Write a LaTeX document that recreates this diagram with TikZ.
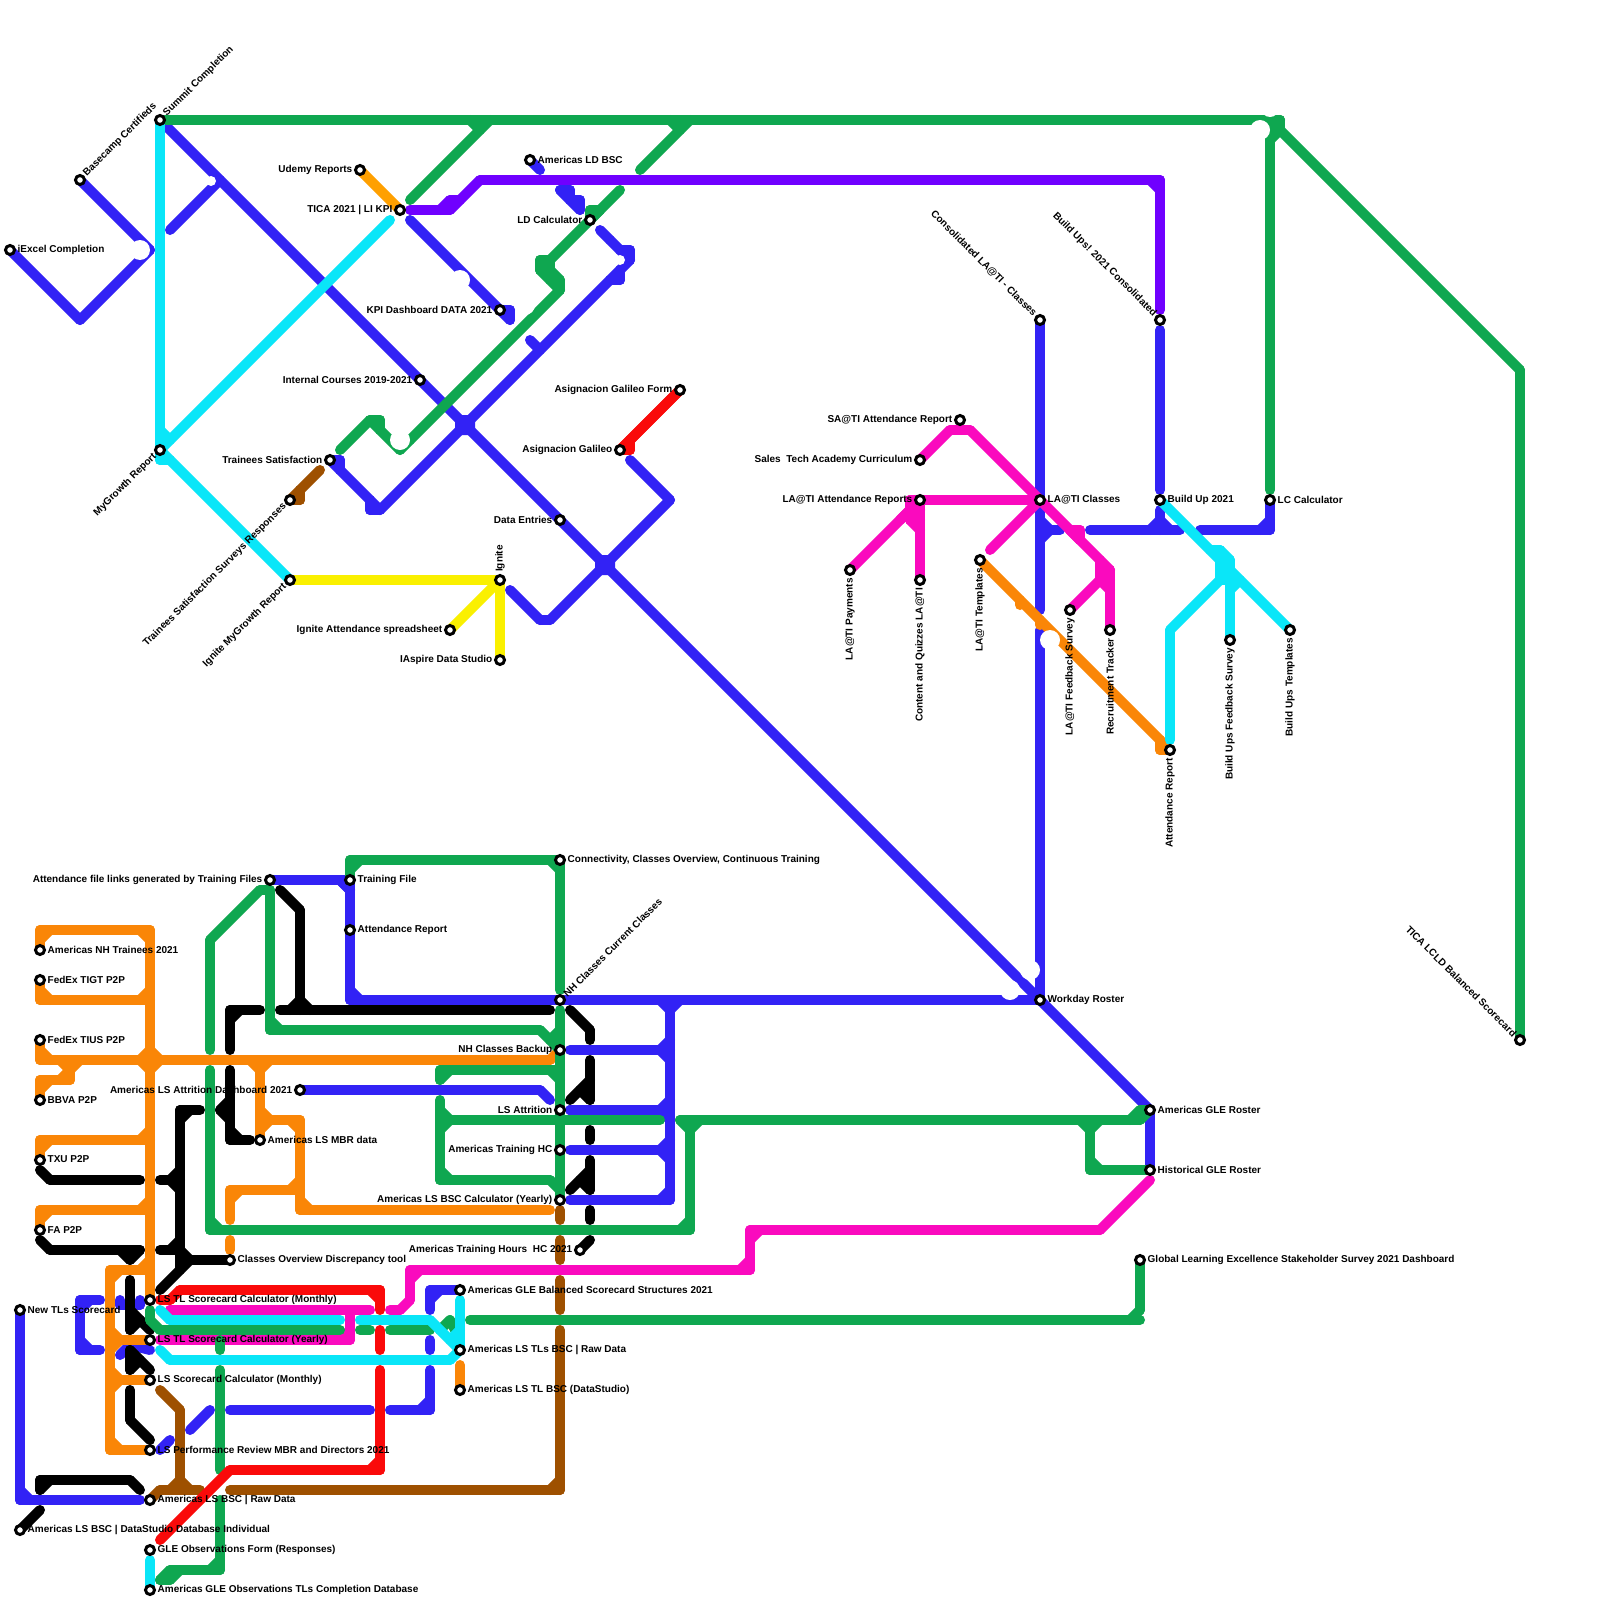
\documentclass[tikz,border=0pt]{standalone}
\usepackage{fontspec}
\setmainfont{Liberation Sans}
\definecolor{cblue}{HTML}{3222F5}
\definecolor{cgreen}{HTML}{0FA750}
\definecolor{ccyan}{HTML}{0AE6F8}
\definecolor{cmag}{HTML}{FA0ABE}
\definecolor{corg}{HTML}{FA8607}
\definecolor{cudemy}{HTML}{FFA000}
\definecolor{cred}{HTML}{FA0A0A}
\definecolor{cyel}{HTML}{FAF000}
\definecolor{cpur}{HTML}{7000FF}
\definecolor{cbrown}{HTML}{9E5000}
\tikzset{
 mline/.style={line width=10pt,line cap=round,line join=round},
 stn/.style={circle,draw=black,fill=white,line width=3pt,inner sep=0pt,minimum size=9pt},
 lab/.style={font=\fontsize{10}{12}\selectfont\bfseries,inner sep=0pt,text=black},
 tr/.style={anchor=west,xshift=7.5pt,yshift=0.5pt},
 tl/.style={anchor=east,xshift=-7.5pt,yshift=0.5pt},
 tne/.style={xshift=5pt,yshift=5pt,rotate=45,anchor=west},
 tnw/.style={xshift=-5pt,yshift=5pt,rotate=-45,anchor=east},
 tsw/.style={xshift=-5pt,yshift=-5pt,rotate=45,anchor=east},
 tup/.style={yshift=8pt,rotate=90,anchor=west},
 tdn/.style={yshift=-8pt,rotate=90,anchor=east},
 hole/.style={fill=white,draw=none},
}
\def\sgnten#1{\ifnum\numexpr#1\relax>0 10\else\ifnum\numexpr#1\relax<0 -10\else 0\fi\fi}
\newcommand\ml[2]{%
 \gdef\aX{}\gdef\bX{}%
 \foreach \p/\q in {#2}{%
  \ifx\bX\empty\else
   \draw[mline,#1] (\bX,\bY)--(\p,\q);
   \ifx\aX\empty\else
    \ifnum\numexpr(\aX-\bX)*(\p-\bX)+(\aY-\bY)*(\q-\bY)\relax=0
     \ifnum\numexpr(\aX-\bX)*(\aY-\bY)\relax=0
      \ifnum\numexpr(\p-\bX)*(\q-\bY)\relax=0
       \draw[mline,#1] (\the\numexpr\bX+\sgnten{\aX-\bX}\relax,\the\numexpr\bY+\sgnten{\aY-\bY}\relax)--(\the\numexpr\bX+\sgnten{\p-\bX}\relax,\the\numexpr\bY+\sgnten{\q-\bY}\relax);
      \fi
     \fi
    \fi
   \fi
  \fi
  \global\let\aX\bX\global\let\aY\bY
  \xdef\bX{\p}\xdef\bY{\q}%
 }}
\newcommand\st[5]{\node[stn] (#1) at (#2,#3) {};\node[lab,#4] (#1t) at (#1) {#5};}
\begin{document}
\begin{tikzpicture}[x=1pt,y=-1pt]
\useasboundingbox (0,0) rectangle (1600,1600);
\fill[white] (0,0) rectangle (1600,1600);
% ---------- blue
\ml{cblue}{80/180,150/250,80/320,10/250}
\ml{cblue}{170/230,220/180}
\ml{cblue}{160/120,1150/1110,1150/1170}
\ml{cblue}{410/220,500/310,510/310,510/320}
\ml{cblue}{530/160,540/170}
\ml{cblue}{560/190,570/190}\ml{cblue}{570/190,570/200}\ml{cblue}{570/200,580/200}\ml{cblue}{580/200,580/210}\ml{cblue}{560/190,580/210}
\ml{cblue}{600/230,610/240,620/250,630/250,630/260,620/270,620/280,610/280,470/420,380/510,370/510,370/500,340/470,340/460,330/460}
\ml{cblue}{530/340,540/350}
\ml{cblue}{510/590,540/620,550/620,670/500,630/460}
\ml{cblue}{1040/320,1040/610}
\ml{cblue}{1040/630,1040/1000}
\ml{cblue}{1040/520,1050/530,1040/540}
\ml{cblue}{1050/530,1060/530}
\ml{cblue}{1090/530,1180/530}
\ml{cblue}{1160/510,1160/530}
\ml{cblue}{1150/530,1160/520,1170/530}
\ml{cblue}{1200/530,1270/530,1270/500}
\ml{cblue}{1160/330,1160/490}
\ml{cblue}{270/880,350/880,350/1000,1040/1000}
\ml{cblue}{340/880,350/890}
\ml{cblue}{300/1090,540/1090,550/1100}
\ml{cblue}{660/1000,670/1010,680/1000}
\ml{cblue}{670/1000,670/1200,570/1200}
\ml{cblue}{570/1050,670/1050}
\ml{cblue}{660/1050,670/1040}\ml{cblue}{660/1050,670/1060}
\ml{cblue}{570/1110,670/1110}
\ml{cblue}{660/1110,670/1100}\ml{cblue}{660/1110,670/1120}
\ml{cblue}{570/1150,670/1150}
\ml{cblue}{660/1150,670/1140}\ml{cblue}{660/1150,670/1160}
\ml{cblue}{570/1110,580/1115}
\ml{cblue}{230/1410,370/1410}
\ml{cblue}{390/1410,430/1410,430/1370}
\ml{cblue}{430/1340,430/1350}
\ml{cblue}{430/1310,430/1290,460/1290}
\ml{cblue}{190/1430,210/1410}
\ml{cblue}{160/1450,170/1440}
\ml{cblue}{20/1310,20/1500,140/1500}
\ml{cblue}{100/1300,80/1300,80/1350,100/1350}
\ml{cblue}{120/1300,120/1305}\ml{cblue}{140/1300,140/1305}\ml{cblue}{120/1305,140/1305}
\ml{cblue}{120/1355,130/1345,150/1350}
\fill[cblue,rounded corners=2pt] (455,415) rectangle (475,435);
\fill[cblue,rounded corners=2pt] (595,555) rectangle (615,575);
% ---------- black
\ml{black}{280/890,300/910,300/1010}
\ml{black}{290/1010,300/1000,310/1010}
\ml{black}{280/1010,550/1010}
\ml{black}{230/1050,230/1010,260/1010}
\ml{black}{230/1070,230/1140,250/1140}
\ml{black}{220/1110,230/1100}\ml{black}{220/1110,230/1120}
\ml{black}{200/1110,180/1110,180/1270}
\ml{black}{160/1180,180/1180}\ml{black}{170/1180,180/1170}\ml{black}{170/1180,180/1190}
\ml{black}{160/1250,180/1250}\ml{black}{170/1250,180/1240}
\ml{black}{180/1250,190/1260,230/1260}
\ml{black}{160/1290,190/1260}
\ml{black}{40/1170,50/1180,140/1180}
\ml{black}{40/1240,50/1250,140/1250}
\ml{black}{120/1250,130/1260,140/1250}
\ml{black}{130/1280,130/1330}
\ml{black}{130/1310,150/1330}
\ml{black}{130/1330,140/1320}
\ml{black}{130/1350,150/1370}
\ml{black}{130/1350,130/1370,140/1360}
\ml{black}{130/1390,130/1420,150/1440}
\ml{black}{40/1490,40/1480,130/1480,140/1490}
\ml{black}{20/1530,40/1510}
\ml{black}{570/1010,590/1030,590/1040}
\ml{black}{590/1060,590/1100}
\ml{black}{570/1100,590/1080}
\ml{black}{580/1090,590/1100}
\ml{black}{590/1130,590/1140}
\ml{black}{590/1160,590/1190}
\ml{black}{570/1190,590/1170}
\ml{black}{580/1180,590/1190}
\ml{black}{590/1210,590/1220}
\ml{black}{580/1250,590/1240}
% ---------- brown
\ml{cbrown}{290/500,300/500,300/490,320/470}
\ml{cbrown}{560/1210,560/1220}
\ml{cbrown}{560/1240,560/1260}
\ml{cbrown}{560/1280,560/1310}
\ml{cbrown}{560/1330,560/1490,230/1490}
\ml{cbrown}{150/1500,160/1490,200/1490}
\ml{cbrown}{160/1390,180/1410,180/1490}
\ml{cbrown}{170/1490,180/1480,190/1490}
% ---------- orange
\ml{cudemy}{360/170,400/210}
\ml{corg}{980/560,1160/740,1160/750,1170/750}
\ml{corg}{1020/600,1020/605}
\ml{corg}{1040/620,1040/625}
\ml{corg}{40/950,40/930,150/930,150/1300}
\ml{corg}{40/980,40/1000,150/1000}
\ml{corg}{140/1000,150/990}
\ml{corg}{40/1040,40/1060,550/1060,560/1050}
\ml{corg}{140/1060,150/1050,160/1060,150/1070,140/1060}
\ml{corg}{40/1100,40/1080,70/1080,70/1060}
\ml{corg}{60/1060,70/1070,80/1060}
\ml{corg}{40/1160,40/1140,150/1140}
\ml{corg}{140/1140,150/1130}
\ml{corg}{40/1230,40/1210,150/1210}
\ml{corg}{140/1210,150/1200}
\ml{corg}{150/1270,110/1270,110/1450,150/1450}
\ml{corg}{140/1270,150/1260}
\ml{corg}{110/1340,150/1340}
\ml{corg}{110/1330,120/1340,110/1350}
\ml{corg}{110/1380,150/1380}
\ml{corg}{110/1370,120/1380,110/1390}
\ml{corg}{250/1060,260/1070,270/1060}
\ml{corg}{260/1060,260/1140}
\ml{corg}{260/1120,300/1120,300/1210,550/1210}
\ml{corg}{260/1110,270/1120,260/1130}
\ml{corg}{230/1220,230/1190,300/1190}
\ml{corg}{290/1190,300/1180}
\ml{corg}{230/1240,230/1250}
\ml{corg}{460/1365,460/1390}
% ---------- purple
\ml{cpur}{410/210,450/210,480/180,1160/180,1160/310}
\ml{cpur}{440/210,450/200,460/200}
% ---------- magenta
\ml{cmag}{920/460,950/430,970/430,1110/570,1110/630}
\ml{cmag}{1070/610,1100/580,1100/560}
\ml{cmag}{1100/570,1110/570}\ml{cmag}{1100/580,1110/580}\ml{cmag}{1100/580,1110/590}
\ml{cmag}{920/500,1040/500}
\ml{cmag}{990/550,1040/500}
\ml{cmag}{1070/530,1080/530,1080/540}
\ml{cmag}{850/570,910/510}
\ml{cmag}{900/520,910/510,910/500,920/500,920/580}
\ml{cmag}{910/500,910/520,920/530}
\ml{cmag}{910/510,920/510}\ml{cmag}{910/520,920/520}
\ml{cmag}{170/1310,370/1310}
\ml{cmag}{170/1310,180/1320}
\ml{cmag}{160/1340,350/1340,350/1310}
\ml{cmag}{390/1310,400/1310,410/1300,410/1270,750/1270,750/1230,1100/1230,1150/1180}
% ---------- green
\ml{cgreen}{160/120,1280/120,1280/130,1520/370,1520/1040}
\ml{cgreen}{1270/120,1270/490}
\ml{cgreen}{1270/130,1280/120}
\ml{cgreen}{1270/140,1280/130}
\ml{cgreen}{410/200,490/120}
\ml{cgreen}{470/120,480/130}
\ml{cgreen}{640/170,690/120}
\ml{cgreen}{670/120,680/130}
\ml{cgreen}{620/190,550/260,540/260,540/270,560/290,410/440}
\ml{cgreen}{550/260,550/280}\ml{cgreen}{550/270,560/280}\ml{cgreen}{560/280,560/290}
\ml{cgreen}{590/220,590/210,600/210}
\ml{cgreen}{340/450,370/420,380/420,380/430,400/450,410/440}
\ml{cgreen}{350/880,350/860,560/860,560/990}
\ml{cgreen}{560/1010,560/1190}
\ml{cgreen}{270/890,270/1030,540/1030,560/1050}
\ml{cgreen}{550/1040,560/1030}
\ml{cgreen}{210/1050,210/940,260/890,270/890}
\ml{cgreen}{210/1070,210/1230,690/1230,690/1120}
\ml{cgreen}{680/1120,690/1130,700/1120}
\ml{cgreen}{680/1120,1140/1120}
\ml{cgreen}{1130/1120,1140/1110,1150/1110,1140/1120}
\ml{cgreen}{1090/1120,1090/1170,1150/1170}
\ml{cgreen}{1080/1120,1090/1130,1100/1120}
\ml{cgreen}{440/1080,440/1070,560/1070}
\ml{cgreen}{550/1070,560/1080}
\ml{cgreen}{440/1100,440/1180,550/1180,560/1190,560/1200}
\ml{cgreen}{440/1120,660/1120}
\ml{cgreen}{440/1110,450/1120,440/1130}
\ml{cgreen}{150/1310,150/1320,160/1330,340/1330}
\ml{cgreen}{360/1330,370/1330}
\ml{cgreen}{390/1330,430/1330}
\ml{cgreen}{440/1330,450/1320,455/1330}
\ml{cgreen}{470/1320,1130/1320,1140/1310,1140/1260}
\ml{cgreen}{1130/1320,1140/1320}
\ml{cgreen}{220/1340,220/1350}
\ml{cgreen}{220/1370,220/1470}
\ml{cgreen}{160/1580,170/1570,220/1570,220/1500}
\ml{cgreen}{160/1580,170/1580,180/1570}
% ---------- red
\ml{cred}{620/450,630/450,630/440,680/390}
\ml{cred}{620/450,680/390}
\ml{cred}{160/1300,170/1300,180/1290,380/1290,380/1310}
\ml{cred}{380/1330,380/1350}
\ml{cred}{160/1540,230/1470,380/1470,380/1370}
% ---------- cyan
\ml{ccyan}{160/120,160/460,170/460,290/580}
\ml{ccyan}{390/220,160/450}
\ml{ccyan}{160/430,170/440}
\ml{ccyan}{1160/500,1290/630}
\ml{ccyan}{1170/740,1170/630,1220/580,1220/550,1230/560,1230/640}
\ml{ccyan}{1210/550,1220/550}\ml{ccyan}{1220/570,1230/570}\ml{ccyan}{1220/580,1230/580}\ml{ccyan}{1230/590,1240/580}
\ml{ccyan}{160/1310,170/1320,340/1320}
\ml{ccyan}{360/1320,430/1320,460/1350,460/1300}
\ml{ccyan}{450/1340,460/1330}
\ml{ccyan}{160/1350,170/1360,450/1360,460/1350}
\ml{ccyan}{150/1560,150/1590}
% ---------- yellow
\ml{cyel}{290/580,500/580,500/660}
\ml{cyel}{450/630,500/580}
\ml{cyel}{490/580,500/590}
% ---------- white bites
\fill[hole] (140,250) circle (10);
\fill[hole] (211,181) circle (5);
\fill[hole] (460,280) circle (10);
\fill[hole] (620,260) circle (5);
\fill[hole] (525,305) circle (10);
\fill[hole] (425,405) circle (8);
\fill[hole] (400,440) circle (10);
\fill[hole] (1260,130) circle (10);
\fill[hole] (1270,108) circle (9);
\fill[hole] (1050,640) circle (10);
\fill[hole] (1030,970) circle (10);
\fill[hole] (1010,990) circle (10);
% ---------- stations
\st{a1}{10}{250}{tr}{iExcel Completion}
\st{a2}{80}{180}{tne}{Basecamp Certifieds}
\st{a3}{160}{120}{tne}{Summit Completion}
\st{a4}{360}{170}{tl}{Udemy Reports}
\st{a5}{400}{210}{tl}{TICA 2021 | LI KPI}
\st{a6}{530}{160}{tr}{Americas LD BSC}
\st{a7}{590}{220}{tl}{LD Calculator}
\st{a8}{500}{310}{tl}{KPI Dashboard DATA 2021}
\st{a9}{420}{380}{tl}{Internal Courses 2019-2021}
\st{a10}{160}{450}{tsw}{MyGrowth Report}
\st{a11}{330}{460}{tl}{Trainees Satisfaction}
\st{a12}{290}{500}{tsw}{Trainees Satisfaction Surveys Responses}
\st{a13}{290}{580}{tsw}{Ignite MyGrowth Report}
\st{a14}{500}{580}{tup}{Ignite}
\st{a15}{450}{630}{tl}{Ignite Attendance spreadsheet}
\st{a16}{500}{660}{tl}{IAspire Data Studio}
\st{a17}{680}{390}{tl}{Asignacion Galileo Form}
\st{a18}{620}{450}{tl}{Asignacion Galileo}
\st{a19}{560}{520}{tl}{Data Entries}
\st{b1}{960}{420}{tl}{SA@TI Attendance Report}
\st{b2}{920}{460}{tl}{Sales\ \ Tech Academy Curriculum}
\st{b3}{920}{500}{tl}{LA@TI Attendance Reports}
\st{b4}{1040}{500}{tr}{LA@TI Classes}
\st{b5}{1040}{320}{tnw}{Consolidated LA@TI - Classes}
\st{b6}{1160}{320}{tnw}{Build Ups! 2021 Consolidated}
\st{b7}{1160}{500}{tr}{Build Up 2021}
\st{b8}{1270}{500}{tr}{LC Calculator}
\st{b9}{850}{570}{tdn}{LA@TI Payments}
\st{b10}{920}{580}{tdn}{Content and Quizzes LA@TI}
\st{b11}{980}{560}{tdn}{LA@TI Templates}
\st{b12}{1070}{610}{tdn}{LA@TI Feedback Survey}
\st{b13}{1110}{630}{tdn}{Recruitment Tracker}
\st{b14}{1170}{750}{tdn}{Attendance Report}
\st{b15}{1230}{640}{tdn}{Build Ups Feedback Survey}
\st{b16}{1290}{630}{tdn}{Build Ups Templates}
\st{b17}{1520}{1040}{tnw}{TICA LCLD Balanced Scorecard}
\st{b18}{1040}{1000}{tr}{Workday Roster}
\st{b19}{1150}{1110}{tr}{Americas GLE Roster}
\st{b20}{1150}{1170}{tr}{Historical GLE Roster}
\st{b21}{1140}{1260}{tr}{Global Learning Excellence Stakeholder Survey 2021 Dashboard}
\st{c1}{560}{860}{tr}{Connectivity, Classes Overview, Continuous Training}
\st{c2}{350}{880}{tr}{Training File}
\st{c3}{270}{880}{tl}{Attendance file links generated by Training Files}
\st{c4}{350}{930}{tr}{Attendance Report}
\st{c5}{560}{1000}{tne}{NH Classes Current Classes}
\st{c6}{560}{1050}{tl}{NH Classes Backup}
\st{c7}{300}{1090}{tl}{Americas LS Attrition Dashboard 2021}
\st{c8}{560}{1110}{tl}{LS Attrition}
\st{c9}{260}{1140}{tr}{Americas LS MBR data}
\st{c10}{560}{1150}{tl}{Americas Training HC}
\st{c11}{560}{1200}{tl}{Americas LS BSC Calculator (Yearly)}
\st{c12}{580}{1250}{tl}{Americas Training Hours\ \ HC 2021}
\st{c13}{230}{1260}{tr}{Classes Overview Discrepancy tool}
\st{c14}{460}{1290}{tr}{Americas GLE Balanced Scorecard Structures 2021}
\st{c15}{460}{1350}{tr}{Americas LS TLs BSC | Raw Data}
\st{c16}{460}{1390}{tr}{Americas LS TL BSC (DataStudio)}
\st{d1}{150}{1300}{tr}{LS TL Scorecard Calculator (Monthly)}
\st{d2}{150}{1340}{tr}{LS TL Scorecard Calculator (Yearly)}
\st{d3}{150}{1380}{tr}{LS Scorecard Calculator (Monthly)}
\st{d4}{150}{1450}{tr}{LS Performance Review MBR and Directors 2021}
\st{d5}{150}{1500}{tr}{Americas LS BSC | Raw Data}
\st{d6}{20}{1530}{tr}{Americas LS BSC | DataStudio Database Individual}
\st{d7}{150}{1550}{tr}{GLE Observations Form (Responses)}
\st{d8}{150}{1590}{tr}{Americas GLE Observations TLs Completion Database}
\st{d9}{20}{1310}{tr}{New TLs Scorecard}
\st{e1}{40}{950}{tr}{Americas NH Trainees 2021}
\st{e2}{40}{980}{tr}{FedEx TIGT P2P}
\st{e3}{40}{1040}{tr}{FedEx TIUS P2P}
\st{e4}{40}{1100}{tr}{BBVA P2P}
\st{e5}{40}{1160}{tr}{TXU P2P}
\st{e6}{40}{1230}{tr}{FA P2P}
\end{tikzpicture}
\end{document}
